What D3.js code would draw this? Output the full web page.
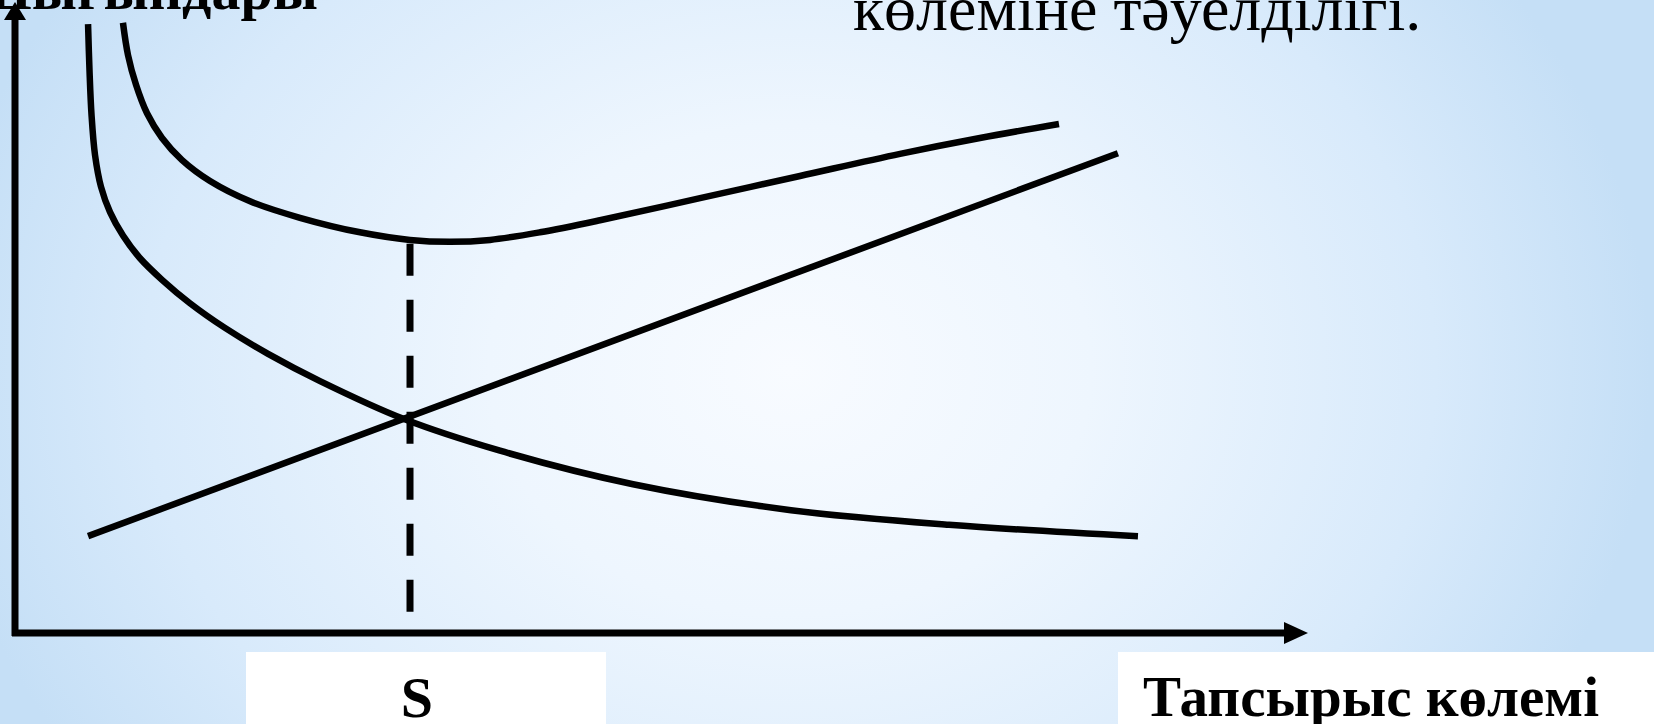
<!DOCTYPE html>
<html>
<head>
<meta charset="utf-8">
<script src="https://cdn.jsdelivr.net/npm/d3@7"></script>
<style>
  html, body { margin: 0; padding: 0; overflow: hidden; }
  svg { display: block; }
</style>
</head>
<body>
<script>

// order quantity (Q) / cost values, 0..100 on both axes
var orderQ    = [5.65, 5.76, 5.92, 6.19, 6.65, 7.35, 8.35, 9.67, 11.37, 13.53, 16.24, 19.57, 23.59, 30.09, 37.51, 47.8, 60.02, 72.23, 86.85];
var orderCost = [96.2, 89.0, 81.8, 75.5, 70.5, 66.5, 62.8, 59.2, 55.8, 52.1, 48.2, 44.1, 39.8, 33.8, 28.8, 23.5, 19.4, 17.1, 15.3];

var totalQ    = [8.35, 8.74, 9.36, 10.21, 11.37, 12.92, 15.08, 18.18, 22.04, 26.68, 30.55, 33.64, 36.74, 40.6, 45.24, 52.98, 60.71, 68.45, 74.63, 80.74];
var totalCost = [96.4, 91.3, 86.6, 82.1, 78.2, 74.7, 71.4, 68.2, 65.6, 63.3, 62.1, 61.8, 62.1, 63.3, 65.2, 68.7, 72.2, 75.7, 78.2, 80.4];

var holdQ    = [5.65, 85.3];
var holdCost = [15.3, 75.8];

// optimal order size and the dashed drop line
var optimalQ = 30.55;
var dropCost = [61.5, 3.3];

var xLabel = "Тапсырыс көлемі";
var yLabel = "Шығындары";
var titleTail = "көлеміне тәуелділігі.";
var optLabel = "S";

function makePlot(){

    const width = 1654;
    const height = 724;

    const x = d3.scaleLinear().domain([0, 100]).range([15, 1308]);
    const y = d3.scaleLinear().domain([0, 100]).range([633, 0]);

    const svg = d3.create("svg")
        .attr("width", width)
        .attr("height", height)
        .attr("viewBox", [0, 0, width, height]);

    document.body.appendChild(svg.node());

    // background gradient
    const defs = svg.append("defs");
    const grad = defs.append("radialGradient")
        .attr("id", "bg")
        .attr("gradientUnits", "userSpaceOnUse")
        .attr("cx", 0).attr("cy", 0).attr("r", 1)
        .attr("gradientTransform", "translate(790,370) scale(860,700)");
    grad.append("stop").attr("offset", 0).attr("stop-color", "#f8fbff");
    grad.append("stop").attr("offset", 0.35).attr("stop-color", "#eef6fe");
    grad.append("stop").attr("offset", 0.75).attr("stop-color", "#d8eafb");
    grad.append("stop").attr("offset", 1).attr("stop-color", "#c5dff6");

    svg.append("rect")
        .attr("width", width)
        .attr("height", height)
        .attr("fill", "url(#bg)");

    // white label boxes
    svg.append("rect")
        .attr("x", 246).attr("y", 652)
        .attr("width", 360).attr("height", 72)
        .attr("fill", "white");
    svg.append("rect")
        .attr("x", 1118).attr("y", 652)
        .attr("width", 536).attr("height", 72)
        .attr("fill", "white");

    const line = d3.line()
        .x(d => x(d[0]))
        .y(d => y(d[1]))
        .curve(d3.curveCatmullRom.alpha(0.5));

    const curves = [
        d3.zip(orderQ, orderCost),
        d3.zip(totalQ, totalCost),
        d3.zip(holdQ, holdCost)
    ];

    svg.append("g")
        .attr("fill", "none")
        .attr("stroke", "black")
        .attr("stroke-width", 6.5)
        .selectAll("path")
        .data(curves)
        .join("path")
        .attr("d", line);

    // dashed line at the optimum
    svg.append("line")
        .attr("x1", x(optimalQ))
        .attr("x2", x(optimalQ))
        .attr("y1", y(dropCost[0]))
        .attr("y2", y(dropCost[1]))
        .attr("stroke", "black")
        .attr("stroke-width", 7)
        .attr("stroke-dasharray", "32,24");

    // axes with arrows
    const x0 = x(0), y0 = y(0);
    const xEnd = x.range()[1], yEnd = y.range()[1];

    svg.append("line")
        .attr("x1", x0).attr("y1", y0 + 3)
        .attr("x2", x0).attr("y2", yEnd + 14)
        .attr("stroke", "black").attr("stroke-width", 7);
    svg.append("line")
        .attr("x1", x0 - 3).attr("y1", y0)
        .attr("x2", xEnd - 20).attr("y2", y0)
        .attr("stroke", "black").attr("stroke-width", 7);

    svg.append("path")
        .attr("d", `M${x0},${yEnd + 2} L${x0 - 11},${yEnd + 20} L${x0 + 11},${yEnd + 20} Z`)
        .attr("fill", "black");
    svg.append("path")
        .attr("d", `M${xEnd},${y0} L${xEnd - 24},${y0 - 11} L${xEnd - 24},${y0 + 11} Z`)
        .attr("fill", "black");

    // texts
    const serif = "'Liberation Serif', 'Times New Roman', 'DejaVu Serif', serif";

    svg.append("text")
        .attr("x", 318).attr("y", 9)
        .attr("text-anchor", "end")
        .attr("font-family", serif)
        .attr("font-weight", "bold")
        .attr("font-size", 58)
        .text(yLabel);

    svg.append("text")
        .attr("x", 853).attr("y", 30)
        .attr("font-family", serif)
        .attr("font-size", 64)
        .text(titleTail);

    svg.append("text")
        .attr("x", 417).attr("y", 717)
        .attr("text-anchor", "middle")
        .attr("font-family", serif)
        .attr("font-weight", "bold")
        .attr("font-size", 58)
        .text(optLabel);

    svg.append("text")
        .attr("x", 1143).attr("y", 716)
        .attr("font-family", serif)
        .attr("font-weight", "bold")
        .attr("font-size", 57)
        .text(xLabel);

    return svg.node();
}

makePlot();
</script>
</body>
</html>
